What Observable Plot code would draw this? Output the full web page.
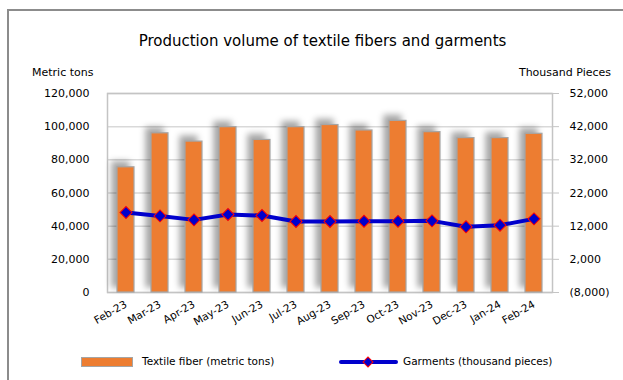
<!DOCTYPE html>
<html>
<head>
<meta charset="utf-8">
<script src="https://cdn.jsdelivr.net/npm/d3@7"></script>
<script src="https://cdn.jsdelivr.net/npm/@observablehq/plot@0.6"></script>
<style>
  html, body { margin: 0; padding: 0; background: #fff; }
  #wrap { position: relative; width: 623px; height: 380px; overflow: hidden; font-family: "DejaVu Sans", sans-serif; color: #000; }
  #border { position: absolute; left: 7px; top: 9px; width: 640px; height: 400px; border-left: 2px solid #8c8c8c; border-top: 2px solid #8c8c8c; }
  .txt { position: absolute; white-space: nowrap; line-height: 1; }
  #chart { position: absolute; left: 0; top: 0; }
</style>
</head>
<body>
<div id="wrap">
  <div id="border"></div>
  <div id="chart"></div>
  <div class="txt" id="title" style="left:0;width:645px;text-align:center;top:34px;font-size:15px;">Production volume of textile fibers and garments</div>
  <div class="txt" style="left:32px;top:67px;font-size:11px;">Metric tons</div>
  <div class="txt" style="right:12px;top:67px;font-size:11px;">Thousand Pieces</div>
  <div class="txt" style="left:81px;top:357px;width:50px;height:8px;background:#ED7D31;border:1px solid #a5a5a5;"></div>
  <div class="txt" style="left:142px;top:356px;font-size:10.5px;">Textile fiber (metric tons)</div>
  <svg class="txt" style="left:336px;top:354px;" width="66" height="16">
    <line x1="5" y1="8" x2="60" y2="8" stroke="#0000CC" stroke-width="4" stroke-linecap="round"/>
    <rect x="28.5" y="4.5" width="7" height="7" transform="rotate(45 32 8)" fill="#0000CC" stroke="red" stroke-width="1"/>
  </svg>
  <div class="txt" style="left:403px;top:356px;font-size:10.5px;">Garments (thousand pieces)</div>
</div>
<script>
const months = ["Feb-23","Mar-23","Apr-23","May-23","Jun-23","Jul-23","Aug-23","Sep-23","Oct-23","Nov-23","Dec-23","Jan-24","Feb-24"];
const fiberTons = [75500, 96000, 91000, 99700, 92000, 99700, 101000, 97700, 103500, 96700, 93100, 93100, 95700];
const garmentsK = [16100, 15100, 13900, 15500, 15200, 13400, 13400, 13500, 13450, 13600, 11800, 12300, 14200];
const leftTicks = [0, 20000, 40000, 60000, 80000, 100000, 120000];
const rightMin = -8000;   // right axis runs -8,000 .. 52,000
const rightScale = 2;     // 60,000 right units span 120,000 left units

const data = months.map((m, i) => ({month: m, fiber: fiberTons[i], garments: garmentsK[i]}));
const toLeft = g => (g - rightMin) * rightScale;
const fmt = d3.format(",");
const rightFmt = v => { const g = v / rightScale + rightMin; return g < 0 ? `(${fmt(-g)})` : fmt(g); };

const chart = Plot.plot({
  width: 623, height: 380,
  marginLeft: 107, marginRight: 71, marginTop: 93, marginBottom: 88,
  style: {fontFamily: "DejaVu Sans, sans-serif", fontSize: "11px", color: "#000", background: "transparent", overflow: "visible"},
  x: {domain: months, paddingInner: 0.5, paddingOuter: 0.25, label: null},
  y: {domain: [0, 120000], label: null},
  marks: [
    Plot.gridY(leftTicks, {stroke: "#d9d9d9", strokeOpacity: 1, strokeWidth: 1.5}),
    Plot.frame({stroke: "#c4c4c4", strokeWidth: 1.5}),
    Plot.barY(data, {x: "month", y: "fiber", fill: "#ED7D31", stroke: "#a5a5a5", strokeWidth: 1.2}),
    Plot.line(data, {x: "month", y: d => toLeft(d.garments), stroke: "#0000CC", strokeWidth: 4}),
    Plot.dot(data, {x: "month", y: d => toLeft(d.garments), symbol: "square", rotate: 45, r: 4.8, fill: "#0000CC", stroke: "red", strokeWidth: 1}),
    Plot.axisX({tickRotate: -30, tickSize: 0, tickPadding: 11, fontSize: 10.5, label: null}),
    Plot.axisY(leftTicks, {anchor: "left", tickSize: 0, tickPadding: 18, tickFormat: fmt, label: null}),
    Plot.axisY(leftTicks, {anchor: "right", tickSize: 6, tickPadding: 11, stroke: "#c4c4c4", tickFormat: rightFmt, label: null})
  ]
});
document.getElementById("chart").append(chart);
d3.select(chart).select('g[aria-label="bar"]').style("filter", "drop-shadow(-5px -5px 3px rgba(0,0,0,0.35))");
</script>
</body>
</html>
